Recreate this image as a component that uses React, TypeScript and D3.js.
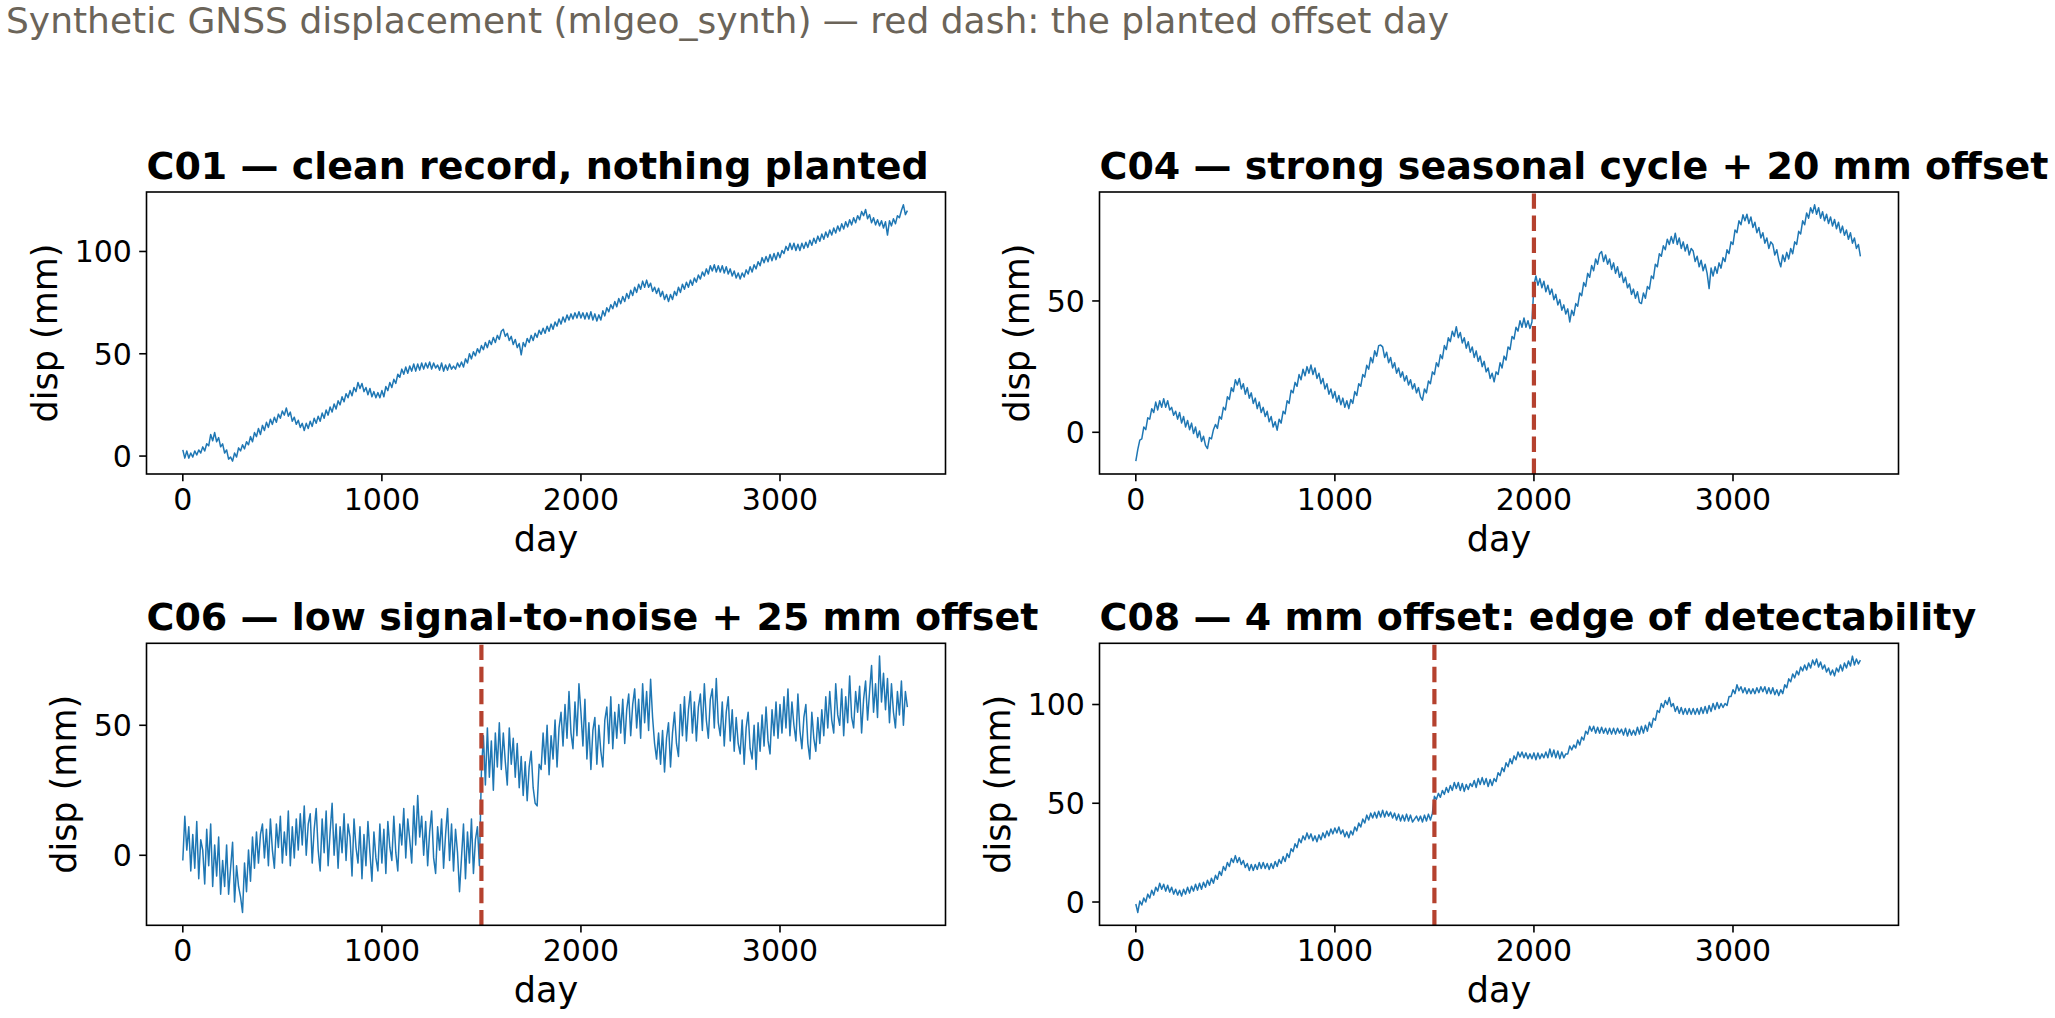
import React from 'react';
import * as d3 from 'd3';

// Sampling: one value every 10 days over a 3650-day record (days 0..3649)
const RECORD_FIRST_DAY = 0;
const RECORD_LAST_DAY = 3649;
const SAMPLE_STEP = 10;

const c01Values = [
  3, -1, 2.5, -1, 1.5, -0.5, 2.5, 0.5, 3, 1.5, 4.5, 2.5, 6, 5, 10.5, 7.5, 11.5, 7, 9, 4.5,
  6, 1.5, 3, -1.5, -0.5, -2.5, 1.5, -0.5, 4, 2.5, 5.5, 3.5, 7, 5.5, 9.5, 7, 11.5, 9.5, 13.5, 10.5,
  15, 12.5, 16.5, 14, 18, 15.5, 19, 16.5, 20.5, 18.5, 22, 20, 23.5, 19.5, 21.5, 17, 19, 15.5, 17.5, 14,
  16, 12.5, 16, 13.5, 17, 14.5, 18.5, 16, 19.5, 17, 21, 18.5, 22.5, 20, 24, 21.5, 25.5, 23, 27, 25,
  29, 26.5, 30.5, 28.5, 32, 29.5, 33.5, 31.5, 36, 33, 35.5, 31.5, 33.5, 30, 33, 29, 31.5, 28.5, 31, 28.5,
  32, 29, 34, 32, 36, 33.5, 37.5, 35.5, 40, 38.5, 42.5, 40, 43.5, 40.5, 44, 41.5, 45, 41.5, 45, 42,
  45.5, 42.5, 45.5, 43, 46, 42.5, 45.5, 43, 44.5, 42, 45.5, 41.5, 44.5, 42, 45, 42.5, 44, 42.5, 45.5, 43.5,
  46, 43.5, 47.5, 45.5, 50, 47.5, 51, 49, 52.5, 50.5, 54, 52, 55.5, 53, 56.5, 54.5, 58, 55.5, 59, 57,
  61, 62, 58.5, 60, 56.5, 58.5, 54.5, 57, 53, 55, 49.5, 55.5, 53.5, 57.5, 55.5, 59, 56.5, 60, 58, 61.5,
  59.5, 62.5, 60, 63.5, 61, 64.5, 62, 65.5, 63.5, 67, 64.5, 68, 65.5, 69, 66.5, 69.5, 67, 70, 67.5, 70.5,
  67.5, 70, 67, 70, 67, 70.5, 66.5, 69.5, 66, 69, 66.5, 71, 68.5, 72.5, 70.5, 74, 72, 75.5, 73, 77,
  74.5, 78, 75.5, 79.5, 77, 81, 78.5, 82.5, 80, 84, 81.5, 85.5, 82.5, 86, 82.5, 84.5, 80.5, 82.5, 79.5, 82,
  78, 80.5, 76.5, 79, 75.5, 79, 76.5, 80.5, 78.5, 82.5, 80, 84, 81.5, 85, 82.5, 86, 83.5, 87, 85, 88.5,
  86.5, 90, 88, 91.5, 89, 93, 90.5, 93.5, 90, 93, 90, 93, 89.5, 92.5, 89, 91.5, 88, 90.5, 87, 89.5,
  86.5, 89.5, 87.5, 91, 89, 92.5, 90, 93.5, 91.5, 95, 93, 97, 94.5, 97.5, 95, 98.5, 95.5, 99, 96, 99.5,
  97, 100.5, 99, 102.5, 100.5, 104, 101, 104, 100.5, 103.5, 100.5, 104, 101.5, 104.5, 102, 105.5, 103, 106.5, 104, 107.5,
  105, 108.5, 106, 109.5, 107, 110.5, 108, 111.5, 109, 112.5, 110, 113.5, 111, 114.5, 112, 115.5, 113, 116.5, 114, 117.5,
  115.5, 119.5, 117.5, 120.5, 116, 118, 114, 116.5, 113, 115.5, 112.5, 115, 111.5, 114.5, 108, 115, 112.5, 116, 113.5, 117.5,
  116.5, 120, 122.8, 118, 120,
];

const c04Values = [
  -11, -6.5, -3, -2.5, 2, 1, 5.5, 5, 9, 7.5, 11.5, 8.5, 12, 9.5, 12.8, 9.5, 12, 8.5, 9.5, 6.5,
  8, 5, 7.5, 3.5, 6, 2, 4.5, 1, 3.5, -0.5, 2, -2, 0.5, -3.5, -1.5, -5, -6.2, -2, -2.5, 1,
  3, 1.5, 6, 5, 9.5, 8.5, 13.5, 12.5, 17, 15.5, 20, 18, 20.5, 16.5, 18.5, 14.5, 17, 13, 15, 11,
  13, 9, 11.5, 7.5, 9.5, 6, 8, 4, 6, 2, 4, 0.8, 5, 3.5, 8, 7, 12, 11, 16, 15,
  19, 17.5, 22, 20, 24, 21.5, 25, 22.5, 25.6, 22, 24.5, 20.5, 22.5, 18.5, 20.5, 16.5, 18.5, 14.5, 16.5, 13,
  15.5, 11.5, 14, 10.5, 13, 9.5, 12, 9, 12.5, 11, 15.5, 14, 18.5, 17.5, 22, 21, 25.5, 24, 28.5, 26.5,
  31, 29, 33, 33.2, 32.5, 28.5, 30.5, 26.5, 28.5, 24.5, 26.5, 22.5, 24.5, 21, 23, 19.5, 21.5, 18, 20, 16.5,
  18.5, 15, 17, 13.5, 12.2, 16.5, 15, 19.5, 18.5, 23, 22, 26.5, 25, 29.5, 28, 33, 31.5, 36, 34.5, 38.5,
  36.5, 40.2, 36, 38, 34, 36, 32, 34.5, 30.5, 32.5, 28.5, 31, 27, 29, 25, 27, 23, 24.5, 20.5, 22.5,
  19.2, 23, 22, 26.5, 24.5, 29, 27.5, 32.5, 31.5, 36.5, 35.5, 40, 38.5, 42.5, 40, 43.5, 40, 42.5, 39.5, 42,
  56, 59.5, 56, 58.5, 55, 57.5, 53.5, 56, 52.5, 54.5, 50.5, 52.5, 48.5, 50.5, 46.5, 48.5, 45, 47, 42, 46.5,
  44.5, 49, 48, 53, 52, 57, 55.5, 60.5, 59, 63.5, 61.5, 66, 64, 68, 68.8, 65, 67.5, 64, 66, 62,
  64.5, 60.5, 63, 59, 61, 57, 59, 55, 56.5, 52.5, 54.5, 51, 53.5, 49.5, 49, 53, 51, 55.5, 54.5, 59.5,
  58.5, 64, 63, 68, 67, 71, 69.5, 73.5, 71.5, 74.5, 72, 75.8, 71.5, 74, 70, 72.5, 69, 71.5, 67.5, 70,
  69, 65, 67, 63, 65.5, 61.5, 64, 60.5, 54.7, 62.5, 59.5, 63, 60.5, 64.5, 62.5, 66.5, 65, 69.5, 68, 72.5,
  71.5, 77, 76, 80.5, 79, 82.8, 80.5, 83, 79.5, 82, 78, 80, 76, 78, 74, 76, 72, 74, 70, 72.5,
  71.5, 67.5, 69.5, 65.5, 63, 67.5, 65, 68.5, 66, 70, 68, 72.5, 71.5, 76.5, 75.5, 80.5, 79, 83.5, 81.5, 85.5,
  83.5, 86.6, 83, 85.5, 81.5, 84, 80.5, 83, 79.5, 82, 78.5, 81, 77.5, 80, 76, 78.5, 75, 77, 73.5, 76,
  72, 74, 70, 71.5, 67,
];

const c06Values = [
  -2, 15, 2, 11, -6, 8, -5, 13, -9, 6, 2, -11, 10, -4, 12, -12, 4, -8, 7, -15,
  -2, -12, 4, -15, -5, 5, -18, -4, -12, -16, -22, -3, -14, 2, -10, 7, -5, 9, -3, 8,
  12, -1, 10, -4, 14, 2, -5, 12, 3, 15, -3, 9, 0, 17, -4, 11, -1, 14, 2, 16,
  4, 19, 0, 12, 16, -3, 10, 18, 2, -6, 14, 1, 17, -4, 9, 20, 0, 12, -5, 11,
  1, 16, -2, 12, 7, -8, 14, 3, -3, 11, -9, 8, -4, 13, 1, -10, 9, -1, -6, 12,
  -3, 10, -7, 13, 3, -2, 15, 1, -6, 12, 4, 18, -1, 14, 6, -3, 19, 4, 23, 7,
  15, 0, 13, -4, 9, 17, -1, -7, 11, 2, 14, -5, 8, 18, -2, 12, -6, 10, 1, -14,
  -1, 12, -9, 9, -3, 14, -7, 6, 11, -4, 32, 46, 27, 49, 30, 44, 25, 47, 34, 51,
  33, 47, 36, 27, 49, 35, 45, 30, 43, 26, 38, 23, 36, 21, 34, 40, 26, 20, 19, 35,
  33, 47, 35, 50, 31, 46, 37, 52, 34, 49, 55, 42, 58, 45, 63, 47, 41, 59, 46, 66,
  55, 42, 60, 37, 51, 33, 48, 53, 35, 50, 40, 34, 52, 57, 43, 61, 41, 55, 45, 58,
  47, 60, 43, 56, 62, 46, 58, 64, 49, 60, 45, 66, 51, 63, 48, 67.7, 53, 43, 37, 47,
  35, 48, 32, 45, 51, 34, 47, 55, 43, 38, 58, 46, 61, 44, 56, 63, 47, 59, 44, 57,
  62, 48, 66, 52, 45, 60, 64, 49, 68, 51, 46, 59, 42, 55, 61, 44, 56, 40, 53, 43,
  39, 52, 35, 49, 55, 41, 37, 50, 33, 51, 40, 54, 42, 57, 44, 39, 56, 46, 59, 45,
  58, 47, 61, 49, 64, 46, 59, 50, 44, 62, 48, 41, 53, 58, 43, 37, 55, 45, 40, 53,
  43, 56, 46, 61, 49, 63, 52, 47, 66, 54, 50, 64, 46, 61, 51, 69, 53, 49, 63, 55,
  65, 47, 60, 67, 52, 63, 73, 55, 66, 53, 76.6, 59, 70, 56, 68, 51, 66, 55, 49, 63,
  54, 67, 50, 63, 57,
];

const c08Values = [
  -1, -5.3, 0.5, -1.5, 2, 0, 4, 2, 6, 3.5, 7.5, 5.5, 9.5, 6.5, 9, 5.5, 8.5, 5, 7.5, 4,
  6.5, 3.5, 6, 3, 6.5, 4, 7.5, 4.5, 8, 5.5, 9, 6, 9.5, 6.5, 10, 7.5, 11, 8.5, 12, 9.5,
  13.5, 11.5, 15.5, 13.5, 18, 16, 20, 18, 22, 20, 23.5, 20, 22.5, 19, 21, 17.5, 19.5, 16, 19, 16,
  19, 16.5, 20, 17, 20, 17, 19.5, 16.5, 19.5, 17, 20.5, 18, 21.5, 19.5, 23, 20.5, 24.5, 22.5, 27, 25.5,
  29.5, 27.5, 32, 30, 33.5, 31.5, 35, 32, 34.5, 31, 33.5, 30.5, 34, 31.5, 35, 32.5, 36, 33.5, 37, 34.5,
  37.5, 35, 38, 34.5, 36.5, 33, 35.5, 32.5, 36, 34, 38, 36, 40, 38, 42, 40, 44, 41.5, 45, 42.5,
  45.5, 42.5, 46, 43, 46.5, 43, 46, 43.5, 45.5, 42.5, 45, 41.5, 44.5, 41, 44, 41, 44.5, 41, 44, 40.5,
  42, 43.5, 41, 43.5, 40.5, 44, 41, 44.5, 41.5, 45, 53.5, 52, 55, 53, 56.5, 54.5, 58, 55.5, 59, 56.5,
  60.5, 57.5, 60.5, 56.5, 60, 56, 59.5, 57, 60, 58.5, 61.5, 58, 62.5, 59.5, 63, 59.5, 62.5, 58.5, 62, 59,
  62.5, 61, 65.5, 64, 68, 66, 70.5, 68.5, 72.5, 70, 74, 72, 76, 73.5, 76, 73, 75.5, 72.5, 75, 72.5,
  75.5, 72, 75.5, 72.5, 75, 73, 76, 73, 77.5, 73.5, 77, 73, 76.5, 72.5, 76, 73, 75, 75, 79, 77,
  79.5, 78, 82, 79.5, 83.5, 82, 86.5, 85, 89, 86.5, 89, 85.5, 88.5, 85.5, 88.5, 85.5, 88, 85, 88, 85,
  88, 85, 88, 85.5, 87.5, 84.5, 88, 84, 87.5, 84.5, 87, 84.5, 88.5, 85, 89, 85.5, 89.5, 86.5, 91, 88.5,
  93, 92, 97, 96, 100.5, 98.5, 102, 100, 103.5, 99, 100.5, 96.5, 99, 95.5, 98.5, 95, 98, 95, 98, 95,
  98, 95, 98, 95, 98.5, 95.5, 99, 95.5, 99.5, 96.5, 100.5, 97.5, 101, 98, 100.5, 98.5, 100.5, 99.5, 104, 104,
  107.5, 105.5, 110, 107, 109, 106, 108.5, 105.5, 108, 105.5, 108, 105.5, 108.5, 106, 109, 106.5, 109, 105.5, 108.5, 105.5,
  108.5, 105, 107.5, 104.5, 107.5, 105.5, 110, 108.5, 113, 111.5, 115.5, 113.5, 117, 115, 119, 117, 120, 117.5, 121, 118.5,
  122.5, 120, 123, 119, 121.5, 118, 120, 116.5, 118.5, 115, 117.5, 114.5, 118.5, 116.5, 120, 117, 121, 118.5, 122, 119.5,
  124.5, 120, 123, 120.5, 122.5,
];

const panelTitles = [
  'C01 — clean record, nothing planted',
  'C04 — strong seasonal cycle + 20 mm offset',
  'C06 — low signal-to-noise + 25 mm offset',
  'C08 — 4 mm offset: edge of detectability',
];
const panelSeries = [c01Values, c04Values, c06Values, c08Values];
const offsetDays: (number | null)[] = [null, 2000, 1500, 1500];

const SUPTITLE = 'Synthetic GNSS displacement (mlgeo_synth) — red dash: the planted offset day';
const X_LABEL = 'day';
const Y_LABEL = 'disp (mm)';

// Layout
const W = 2055;
const H = 1018;
const COL_X = [146.5, 1099.5];
const ROW_Y = [192, 643.3];
const AX_W = 799;
const AX_H = 282;
const FONT = "'DejaVu Sans', 'Liberation Sans', sans-serif";
const TICK_FS = 30;
const LABEL_FS = 35;
const TITLE_FS = 38;
const SUP_FS = 36;
const TICK_LEN = 7.3;
const TICK_PAD = 7.3;
const LINE_BLUE = '#1f77b4';
const DASH_RED = '#b5412e';
const SUP_COLOR = '#6b6459';

function padExtent([a, b]: [number, number], frac = 0.05): [number, number] {
  const r = b - a;
  return [a - r * frac, b + r * frac];
}

function Panel({ idx }: { idx: number }) {
  const values = panelSeries[idx];
  const left = COL_X[idx % 2];
  const top = ROW_Y[Math.floor(idx / 2)];
  const days = values.map((_, i) => RECORD_FIRST_DAY + i * SAMPLE_STEP);

  const x = d3.scaleLinear()
    .domain(padExtent([RECORD_FIRST_DAY, RECORD_LAST_DAY]))
    .range([0, AX_W]);
  const y = d3.scaleLinear()
    .domain(padExtent(d3.extent(values) as [number, number]))
    .range([AX_H, 0]);

  const line = d3.line<number>()
    .x((_, i) => x(days[i]))
    .y((v) => y(v));

  const xTicks = x.ticks(4).filter((t) => t >= 0);
  const yTicks = y.ticks(3);
  const maxDigits = d3.max(yTicks, (t) => String(t).length) || 1;
  const yLabelX = -(TICK_LEN + TICK_PAD + maxDigits * 0.636 * TICK_FS + 17.5);
  const off = offsetDays[idx];

  return (
    <g transform={`translate(${left},${top})`}>
      <text x={0} y={-13} fontFamily={FONT} fontSize={TITLE_FS} fontWeight="bold" fill="#000">
        {panelTitles[idx]}
      </text>
      <path d={line(values) || ''} fill="none" stroke={LINE_BLUE} strokeWidth={1.5} strokeLinejoin="round" />
      {off !== null && (
        <line
          x1={x(off)} x2={x(off)} y1={AX_H} y2={0}
          stroke={DASH_RED} strokeWidth={4.2} strokeDasharray="15.4 6.7"
        />
      )}
      <rect x={0} y={0} width={AX_W} height={AX_H} fill="none" stroke="#000" strokeWidth={1.6} />
      {xTicks.map((t) => (
        <g key={`x${t}`} transform={`translate(${x(t)},${AX_H})`}>
          <line y1={0} y2={TICK_LEN} stroke="#000" strokeWidth={1.6} />
          <text y={36} textAnchor="middle" fontFamily={FONT} fontSize={TICK_FS} fill="#000">{t}</text>
        </g>
      ))}
      {yTicks.map((t) => (
        <g key={`y${t}`} transform={`translate(0,${y(t)})`}>
          <line x1={0} x2={-TICK_LEN} stroke="#000" strokeWidth={1.6} />
          <text x={-(TICK_LEN + TICK_PAD)} dy="0.36em" textAnchor="end" fontFamily={FONT} fontSize={TICK_FS} fill="#000">{t}</text>
        </g>
      ))}
      <text x={AX_W / 2} y={AX_H + 77} textAnchor="middle" fontFamily={FONT} fontSize={LABEL_FS} fill="#000">{X_LABEL}</text>
      <text
        transform={`translate(${yLabelX},${AX_H / 2}) rotate(-90)`}
        textAnchor="middle" fontFamily={FONT} fontSize={LABEL_FS} fill="#000"
      >{Y_LABEL}</text>
    </g>
  );
}

export default function App() {
  return (
    <svg
      width={W} height={H} viewBox={`0 0 ${W} ${H}`}
      style={{ position: 'absolute', left: 0, top: 0, display: 'block', background: '#fff' }}
    >
      <rect x={0} y={0} width={W} height={H} fill="#fff" />
      <text x={6} y={33} fontFamily={FONT} fontSize={SUP_FS} fill={SUP_COLOR}>{SUPTITLE}</text>
      {panelSeries.map((_, i) => <Panel key={i} idx={i} />)}
    </svg>
  );
}
